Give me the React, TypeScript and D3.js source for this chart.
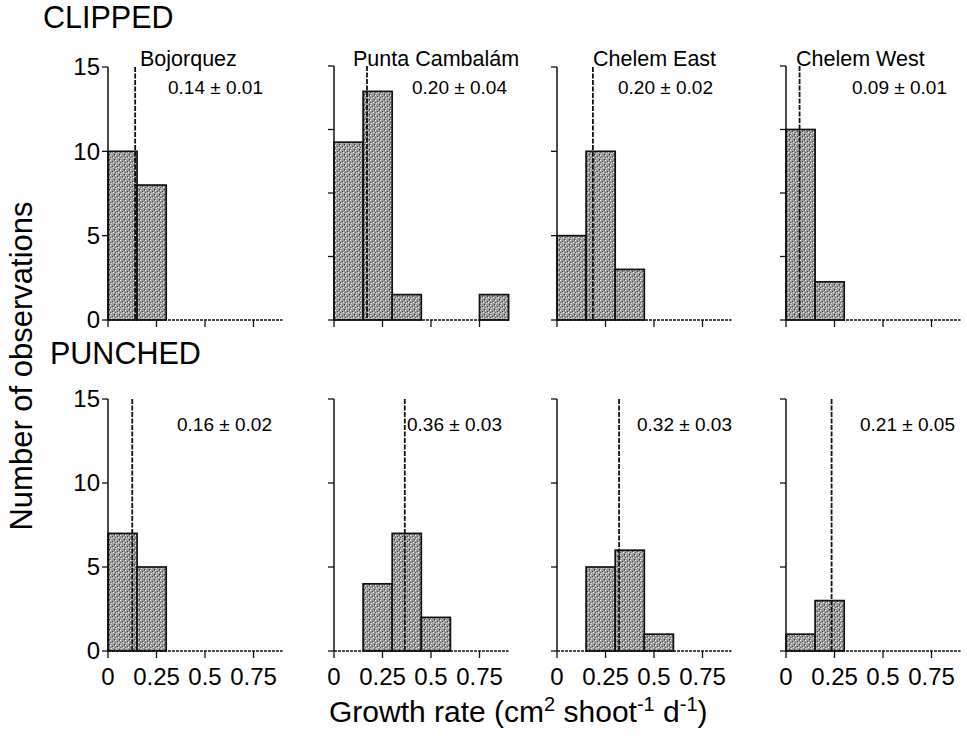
import React from "react"
import * as d3 from "d3"

const sites = ["Bojorquez", "Punta Cambalám", "Chelem East", "Chelem West"]
const binStarts = [0, 0.15, 0.3, 0.45, 0.6, 0.75]
const binWidth = 0.15

const clippedCounts = [
  [10, 8, 0, 0, 0, 0],
  [14, 18, 2, 0, 0, 2],
  [5, 10, 3, 0, 0, 0],
  [15, 3, 0, 0, 0, 0],
]
const punchedCounts = [
  [7, 5, 0, 0, 0, 0],
  [0, 4, 7, 2, 0, 0],
  [0, 5, 6, 1, 0, 0],
  [1, 3, 0, 0, 0, 0],
]
const clippedYMax = [15, 20, 15, 20]
const punchedYMax = [15, 15, 15, 15]
const clippedMeans = [0.14, 0.17, 0.185, 0.07]
const punchedMeans = [0.125, 0.365, 0.32, 0.235]
const clippedLabels = ["0.14 ± 0.01", "0.20 ± 0.04", "0.20 ± 0.02", "0.09 ± 0.01"]
const punchedLabels = ["0.16 ± 0.02", "0.36 ± 0.03", "0.32 ± 0.03", "0.21 ± 0.05"]
const xTicks = [0, 0.25, 0.5, 0.75]
const xTickLabels = ["0", "0.25", "0.5", "0.75"]
const yTickStep = 5

// layout
const W = 967
const H = 738
const colX = [108, 334, 557, 786]
const panelW = 174.6 // 0 .. 0.9
const rows = [
  { top: 67, base: 320, name: "CLIPPED", nameX: 43, nameY: 28, counts: clippedCounts, ymax: clippedYMax, means: clippedMeans, labels: clippedLabels, labelDx: [60, 78, 61, 66], labelY: 94 },
  { top: 399, base: 651, name: "PUNCHED", nameX: 50, nameY: 364, counts: punchedCounts, ymax: punchedYMax, means: punchedMeans, labels: punchedLabels, labelDx: [69, 73, 80, 74], labelY: 431 },
]
const titleDx = [32, 19, 36, 10]
const font = "'Liberation Sans', Arial, Helvetica, sans-serif"

function Panel({ row, col, r }: { row: any; col: number; r: number }) {
  const x0 = colX[col]
  const x = d3.scaleLinear().domain([0, 0.9]).range([x0, x0 + panelW])
  const ymax = row.ymax[col]
  const topY = ymax === 20 ? row.top - 1 : row.top
  const y = d3.scaleLinear().domain([0, ymax]).range([row.base, topY])
  const yTicks = d3.range(0, ymax + 0.1, yTickStep)
  const counts: number[] = row.counts[col]
  const m = row.means[col]
  return (
    <g>
      {counts.map((c, i) =>
        c > 0 ? (
          <rect
            key={i}
            x={x(binStarts[i])}
            y={y(c)}
            width={x(binStarts[i] + binWidth) - x(binStarts[i])}
            height={y(0) - y(c)}
            fill="url(#stipple)"
            stroke="#111"
            strokeWidth={1.7}
          />
        ) : null
      )}
      {/* axes */}
      <line x1={x0} x2={x0} y1={y(0)} y2={y(ymax)} stroke="#111" strokeWidth={1.5} />
      <line x1={x0} x2={x(0.9)} y1={y(0)} y2={y(0)} stroke="#111" strokeWidth={1.3} strokeDasharray="3 1" />
      {yTicks.map(t => (
        <g key={t}>
          <line x1={x0 - 6} x2={x0} y1={y(t)} y2={y(t)} stroke="#111" strokeWidth={1.3} />
          {col === 0 && (
            <text x={x0 - 8} y={y(t)} dy="0.35em" textAnchor="end" fontSize={24} fontFamily={font}>
              {t}
            </text>
          )}
        </g>
      ))}
      {xTicks.map((t, i) => (
        <g key={t}>
          <line x1={x(t)} x2={x(t)} y1={y(0)} y2={y(0) + 7} stroke="#111" strokeWidth={1.3} />
          {r === 1 && (
            <text x={x(t)} y={y(0) + 34} textAnchor="middle" fontSize={24} fontFamily={font}>
              {xTickLabels[i]}
            </text>
          )}
        </g>
      ))}
      {/* mean line */}
      <line x1={x(m)} x2={x(m)} y1={y(ymax)} y2={y(0)} stroke="#111" strokeWidth={1.8} strokeDasharray="5 1.5" />
      <text x={x0 + row.labelDx[col]} y={row.labelY} fontSize={19} fontFamily={font}>
        {row.labels[col]}
      </text>
      {r === 0 && (
        <text x={x0 + titleDx[col]} y={66} fontSize={21.5} fontFamily={font}>
          {sites[col]}
        </text>
      )}
    </g>
  )
}

export default function App() {
  return (
    <svg width={W} height={H} style={{ position: "absolute", left: 0, top: 0, background: "#fff" }}>
      <defs>
        <pattern id="stipple" width={5} height={5} patternUnits="userSpaceOnUse">
          <rect width={5} height={5} fill="#9c9c9c" />
          <rect x={0} y={0} width={1} height={1} fill="#fff" />
          <rect x={3} y={2} width={1} height={1} fill="#f4f4f4" />
          <rect x={1} y={3} width={1} height={1} fill="#e0e0e0" />
          <rect x={2} y={1} width={1} height={1} fill="#444" />
          <rect x={4} y={4} width={1} height={1} fill="#3a3a3a" />
          <rect x={0} y={2} width={1} height={1} fill="#666" />
          <rect x={4} y={0} width={1} height={1} fill="#6a6a6a" />
        </pattern>
      </defs>
      {rows.map((row, r) => (
        <g key={row.name}>
          <text x={row.nameX} y={row.nameY} fontSize={30.5} fontFamily={font}>
            {row.name}
          </text>
          {sites.map((s, c) => (
            <Panel key={s} row={row} col={c} r={r} />
          ))}
        </g>
      ))}
      <text
        transform="translate(32,366) rotate(-90)"
        textAnchor="middle"
        fontSize={31}
        fontFamily={font}
      >
        Number of observations
      </text>
      <text x={329} y={722} fontSize={30} fontFamily={font}>
        Growth rate (cm
        <tspan fontSize={20} dy={-11}>2</tspan>
        <tspan dy={11}> shoot</tspan>
        <tspan fontSize={20} dy={-11}>-1</tspan>
        <tspan dy={11}> d</tspan>
        <tspan fontSize={20} dy={-11}>-1</tspan>
        <tspan dy={11}>)</tspan>
      </text>
    </svg>
  )
}
